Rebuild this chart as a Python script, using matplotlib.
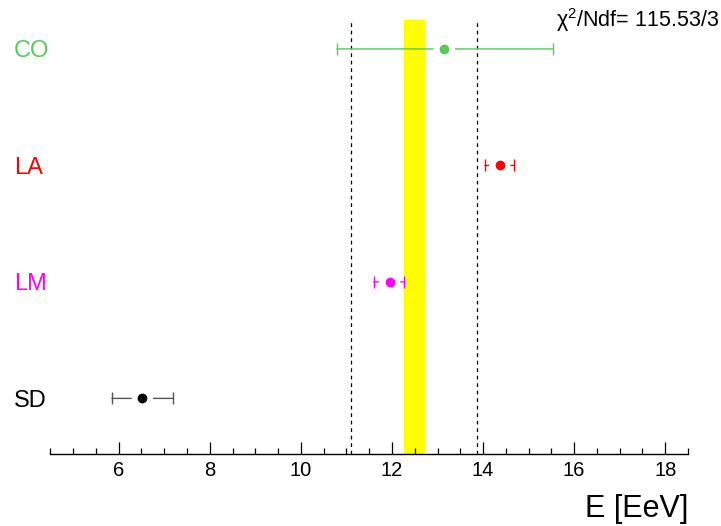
import matplotlib
matplotlib.use("Agg")
import matplotlib.pyplot as plt
from matplotlib.transforms import blended_transform_factory

plt.rcParams["font.family"] = ["Liberation Sans", "DejaVu Sans"]
plt.rcParams["mathtext.fontset"] = "custom"
plt.rcParams["mathtext.rm"] = "Liberation Sans"

# measurements, top to bottom
labels = ["CO", "LA", "LM", "SD"]
energy = [13.15, 14.37, 11.95, 6.52]
err_lo = [10.79, 14.04, 11.60, 5.85]
err_hi = [15.53, 14.68, 12.27, 7.20]
colors = ["#55cc55", "#ff0000", "#ff00ff", "#000000"]
bar_colors = ["#55cc55", "#ff0000", "#ff00ff", "#555555"]
rows = [4, 3, 2, 1]

# combined mean band and spread lines
band_lo, band_hi = 12.27, 12.73
spread = [11.11, 13.87]
chi2_text = r"χ$^{2}$/Ndf= 115.53/3"

fig = plt.figure(figsize=(7.21, 5.26), dpi=100)
ax = fig.add_axes([0.0699, 0.1363, 0.8843, 0.8637])
ax.set_xlim(4.5, 18.5)
ax.set_ylim(0.52, 4.42)

top = 4.25
ax.fill_betweenx([ax.get_ylim()[0], top], band_lo, band_hi, color="#ffff00", lw=0, zorder=1)
ax.vlines(spread, ax.get_ylim()[0], top, colors="black", linestyles=(0, (3, 3)), lw=0.9, zorder=2)

for y, x, lo, hi, c, bc in zip(rows, energy, err_lo, err_hi, colors, bar_colors):
    for end in (lo, hi):
        ax.annotate("", xy=(end, y), xytext=(x, y),
                    arrowprops=dict(arrowstyle="-", color=bc, lw=1.0, shrinkA=8, shrinkB=0))
    ax.plot([lo, hi], [y, y], ls="none", marker="|", ms=8, mew=1.0, color=bc, zorder=3)
    ax.plot([x], [y], ls="none", marker="o", ms=6, color=c, zorder=4)

lab_tr = blended_transform_factory(fig.transFigure, ax.transData)
for y, name, c in zip(rows, labels, colors):
    ax.text(0.019, y, name, transform=lab_tr, color=c, fontsize=17,
            ha="left", va="center_baseline")

for s in ["left", "right", "top"]:
    ax.spines[s].set_visible(False)
ax.spines["bottom"].set_linewidth(1.0)
ax.set_yticks([])
ax.set_xticks(range(6, 19, 2))
ax.set_xticks([v / 2 for v in range(9, 38)], minor=True)
ax.tick_params(axis="x", which="major", direction="in", length=9, width=0.9, labelsize=14.5, pad=5)
ax.tick_params(axis="x", which="minor", direction="in", length=4.5, width=0.9)

fig.text(0.955, 0.032, "E [EeV]", fontsize=22, ha="right", va="center")
fig.text(0.997, 0.962, chi2_text, fontsize=15.5, ha="right", va="center")

fig.savefig("out.png", dpi=100)
